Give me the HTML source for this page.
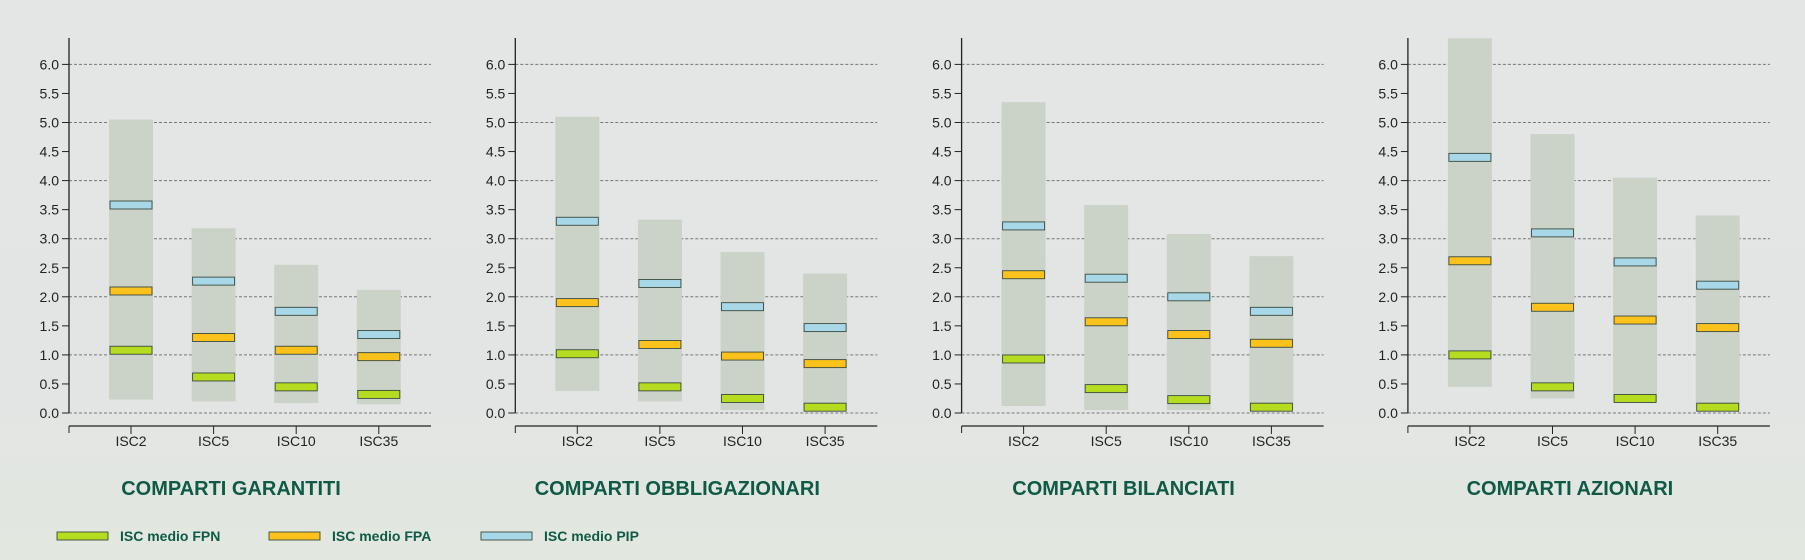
<!DOCTYPE html>
<html><head><meta charset="utf-8"><style>
html,body{margin:0;padding:0;width:1805px;height:560px;overflow:hidden;background:linear-gradient(180deg,#e4e6e6 0%,#e3e5e4 70%,#e2e7df 100%);}
</style></head><body>
<svg id="s" width="1805" height="560" xmlns="http://www.w3.org/2000/svg" font-family="Liberation Sans, sans-serif"></svg>
<script>
const s=document.getElementById('s');
const data=[
{t:'COMPARTI GARANTITI',r:[[0.23,5.05],[0.2,3.18],[0.17,2.55],[0.15,2.12]],pip:[3.58,2.27,1.75,1.35],fpa:[2.1,1.3,1.08,0.97],fpn:[1.08,0.62,0.45,0.32]},
{t:'COMPARTI OBBLIGAZIONARI',r:[[0.38,5.1],[0.2,3.33],[0.05,2.77],[0.05,2.4]],pip:[3.3,2.23,1.83,1.47],fpa:[1.9,1.18,0.98,0.85],fpn:[1.02,0.45,0.25,0.1]},
{t:'COMPARTI BILANCIATI',r:[[0.12,5.35],[0.05,3.58],[0.05,3.08],[0.05,2.7]],pip:[3.22,2.32,2.0,1.75],fpa:[2.38,1.57,1.35,1.2],fpn:[0.93,0.42,0.23,0.1]},
{t:'COMPARTI AZIONARI',r:[[0.45,6.45],[0.25,4.8],[0.2,4.05],[0.1,3.4]],pip:[4.4,3.1,2.6,2.2],fpa:[2.62,1.82,1.6,1.47],fpn:[1.0,0.45,0.25,0.1]}];
const cats=['ISC2','ISC5','ISC10','ISC35'];
const Y=v=>413-58.1*v;
let h='';
data.forEach((d,p)=>{
 const ox=69+p*446.3;
 for(let i=0;i<=12;i++){const v=i*0.5,y=Y(v);
  if(i%2==0)h+=`<line x1="${ox}" x2="${ox+362}" y1="${y}" y2="${y}" stroke="#777" stroke-dasharray="3,2" stroke-width="1"/>`;
  h+=`<line x1="${ox-7}" x2="${ox}" y1="${y}" y2="${y}" stroke="#222"/>`;
  h+=`<text x="${ox-10}" y="${y+5}" font-size="14" text-anchor="end" fill="#222">${v.toFixed(1)}</text>`;}
 cats.forEach((c,i)=>{const cx=ox+62+i*82.6;
  const [a,b]=d.r[i];
  h+=`<rect x="${cx-22}" y="${Y(b)}" width="44" height="${Y(a)-Y(b)}" fill="#cbd3c8"/>`;
  [['fpn','#b5dc1f'],['fpa','#fcc21c'],['pip','#a8d8e8']].forEach(([k,col])=>{
   h+=`<rect x="${cx-21}" y="${Y(d[k][i])-4}" width="42" height="8" fill="${col}" stroke="#3a4a40" stroke-width="0.9"/>`;});
  h+=`<line x1="${cx}" x2="${cx}" y1="426" y2="434" stroke="#222"/>`;
  h+=`<text x="${cx}" y="446" font-size="14" text-anchor="middle" fill="#222">${c}</text>`;});
 h+=`<line x1="${ox}" x2="${ox}" y1="38" y2="413" stroke="#222" stroke-width="1.3"/>`;
 h+=`<line x1="${ox}" x2="${ox+362}" y1="426" y2="426" stroke="#222" stroke-width="1.3"/><line x1="${ox}" x2="${ox}" y1="426" y2="433" stroke="#222"/>`;
 h+=`<text x="${ox+162}" y="495" font-size="20" font-weight="bold" text-anchor="middle" fill="#0f5a46">${d.t}</text>`;
});
[[57,'#b5dc1f','ISC medio FPN'],[269,'#fcc21c','ISC medio FPA'],[481,'#a8d8e8','ISC medio PIP']].forEach(([x,c,t])=>{
 h+=`<rect x="${x}" y="532" width="51" height="8" fill="${c}" stroke="#3a4a40" stroke-width="0.9"/>`;
 h+=`<text x="${x+63}" y="541" font-size="14" font-weight="bold" fill="#0f5a46">${t}</text>`;});
s.innerHTML=h;
</script>
</body></html>
